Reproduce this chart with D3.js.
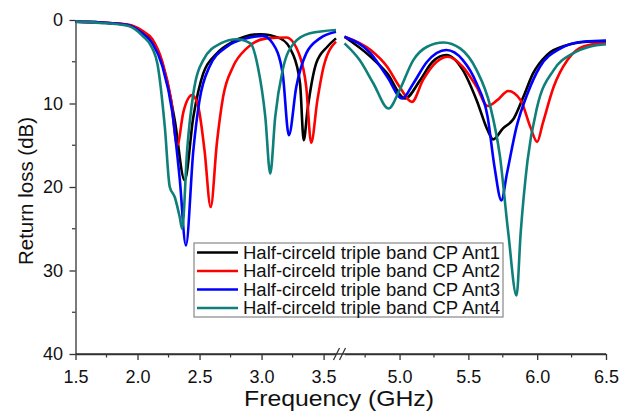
<!DOCTYPE html>
<html>
<head>
<meta charset="utf-8">
<script src="https://cdn.jsdelivr.net/npm/d3@7"></script>
<style>
  body { margin: 0; background: #fff; }
  svg { font-family: Arial, "Liberation Sans", sans-serif; }
</style>
</head>
<body>
<svg id="chart" width="620" height="411"></svg>
<script>
// frequency (GHz), return loss (dB)
const ant1Left = [[1.5,0.2],[1.7,0.3],[1.92,0.6],[2.04,1.4],[2.12,2.6],[2.16,3.6],[2.24,7.5],[2.3,12],[2.38,19.2],
  [2.45,11.6],[2.53,6.4],[2.64,4],[2.77,2.6],[2.99,1.7],[3.15,2.2],[3.25,4],[3.31,7.6],[3.34,14.4],[3.37,10.8],
  [3.44,5.2],[3.53,3.2],[3.6,2.2]];
const ant2Left = [[1.5,0.2],[1.7,0.3],[1.92,0.55],[2.04,1.3],[2.12,2.3],[2.2,5],[2.27,9.5],[2.32,15],[2.37,11],
  [2.44,9],[2.49,10.4],[2.54,15.6],[2.59,22.4],[2.64,14.7],[2.69,9.2],[2.77,5.6],[2.88,3.4],[3.04,2.2],[3.2,2.1],
  [3.31,4.4],[3.36,8],[3.4,14.7],[3.45,9.6],[3.5,5.6],[3.6,2.6]];
const ant3Left = [[1.5,0.2],[1.7,0.3],[1.92,0.6],[2.04,1.6],[2.12,2.8],[2.2,5.5],[2.28,11],[2.34,19],[2.39,27],
  [2.45,15.6],[2.5,9.6],[2.58,5.6],[2.72,3.2],[2.88,2.2],[3.01,1.9],[3.09,2.8],[3.17,6.4],[3.22,13.8],[3.28,8],
  [3.36,4],[3.47,2.2],[3.6,1.4]];
const ant4Left = [[1.5,0.2],[1.7,0.35],[1.92,0.7],[2.04,1.9],[2.12,3.4],[2.16,5.2],[2.22,12.8],[2.26,20],[2.3,21.2],
  [2.34,23.6],[2.36,25],[2.4,15.6],[2.45,8.8],[2.53,4.8],[2.67,2.8],[2.8,2.3],[2.91,2.8],[2.97,5.6],[3.03,11.6],
  [3.07,18.4],[3.11,11.6],[3.17,6],[3.26,2.8],[3.39,1.6],[3.6,1.2]];

const ant1Right = [[4.6,2],[4.79,4.4],[4.91,6.4],[5.04,9.4],[5.15,7.2],[5.24,5],[5.34,4.2],[5.46,6],[5.56,9.6],
  [5.64,13.2],[5.68,14.3],[5.75,13],[5.83,11.8],[5.9,9.2],[5.97,6.4],[6.07,4.2],[6.22,3],[6.36,2.6],[6.5,2.5]];
const ant2Right = [[4.6,2],[4.79,3.6],[4.91,5.6],[5.0,8],[5.09,9.8],[5.17,7.2],[5.27,5],[5.35,4.4],[5.46,5.6],
  [5.56,8],[5.64,10.3],[5.71,9.6],[5.79,8.5],[5.88,9.6],[5.95,12.8],[6.0,14.6],[6.04,12.4],[6.12,8],[6.22,4.8],
  [6.33,3.2],[6.5,2.7]];
const ant3Right = [[4.6,2],[4.79,4],[4.91,6.8],[5.02,9.4],[5.1,7.6],[5.2,5],[5.34,3.6],[5.46,4.8],[5.56,7.6],
  [5.64,11.6],[5.69,17.6],[5.74,21.6],[5.78,18.4],[5.85,12.8],[5.93,8.8],[6.02,5.6],[6.17,3.4],[6.33,2.6],[6.5,2.5]];
const ant4Right = [[4.6,2.8],[4.71,4.8],[4.81,7.6],[4.92,10.6],[5.0,8.4],[5.1,4.8],[5.2,3.2],[5.32,2.7],[5.44,3.4],
  [5.56,6],[5.66,10.4],[5.73,16.4],[5.79,25.5],[5.85,33],[5.88,25.5],[5.93,16.8],[6.0,10.4],[6.12,6],[6.26,4],
  [6.38,3.2],[6.5,2.9]];

const seriesNames = ["Half-circeld triple band CP Ant1", "Half-circeld triple band CP Ant2",
  "Half-circeld triple band CP Ant3", "Half-circeld triple band CP Ant4"];
const seriesColors = ["#000000", "#ff0000", "#0000ff", "#0f7f7a"];
const leftTicks = [1.5, 2.0, 2.5, 3.0, 3.5];
const rightTicks = [5.0, 5.5, 6.0, 6.5];
const yTicks = [0, 10, 20, 30, 40];

const svg = d3.select("#chart");
const plotTop = 20, plotBottom = 354;

const xLeft = d3.scaleLinear().domain([1.5, 3.6]).range([75.5, 336]);
const xRight = d3.scaleLinear().domain([4.6, 6.5]).range([344.5, 606]);
const y = d3.scaleLinear().domain([0, 40]).range([plotTop, plotBottom]);

// axes
const xAxisL = d3.axisBottom(xLeft).tickValues(leftTicks).tickFormat(d3.format(".1f")).tickSize(6).tickSizeOuter(0);
const xAxisR = d3.axisBottom(xRight).tickValues(rightTicks).tickFormat(d3.format(".1f")).tickSize(6).tickSizeOuter(0);
const yAxis = d3.axisLeft(y).tickValues(yTicks).tickSize(6).tickSizeOuter(0);

function styleAxis(g) {
  g.selectAll("path, line").attr("stroke", "#333").attr("stroke-width", 1.3);
  g.selectAll("text").attr("fill", "#111").style("font-size", "18px");
}

svg.append("g").attr("transform", `translate(0,${plotBottom})`).call(xAxisL).call(styleAxis)
  .selectAll("text").attr("y", 16);
svg.append("g").attr("transform", `translate(0,${plotBottom})`).call(xAxisR).call(styleAxis)
  .selectAll("text").attr("y", 16);
svg.append("g").attr("transform", "translate(75.5,0)").call(yAxis).call(styleAxis)
  .selectAll("text").attr("x", -12.5);

// continuous bottom line across the break
svg.append("line").attr("x1", 75.5).attr("x2", 606).attr("y1", plotBottom).attr("y2", plotBottom)
  .attr("stroke", "#333").attr("stroke-width", 1.3);

// minor ticks
const minorL = [1.75, 2.25, 2.75, 3.25];
const minorR = [4.75, 5.25, 5.75, 6.25];
const minorY = [5, 15, 25, 35];
svg.selectAll(".mxl").data(minorL).join("line")
  .attr("x1", d => xLeft(d)).attr("x2", d => xLeft(d)).attr("y1", plotBottom).attr("y2", plotBottom + 3.5)
  .attr("stroke", "#333").attr("stroke-width", 1.2);
svg.selectAll(".mxr").data(minorR).join("line")
  .attr("x1", d => xRight(d)).attr("x2", d => xRight(d)).attr("y1", plotBottom).attr("y2", plotBottom + 3.5)
  .attr("stroke", "#333").attr("stroke-width", 1.2);
svg.selectAll(".my").data(minorY).join("line")
  .attr("x1", 75.5).attr("x2", 72).attr("y1", d => y(d)).attr("y2", d => y(d))
  .attr("stroke", "#333").attr("stroke-width", 1.2);

// break marks
[336.5, 342.5].forEach(bx => {
  svg.append("line").attr("x1", bx - 3).attr("y1", plotBottom + 6).attr("x2", bx + 3).attr("y2", plotBottom - 6)
    .attr("stroke", "#333").attr("stroke-width", 1.3);
});

// curves
const lineL = d3.line().x(d => xLeft(d[0])).y(d => y(d[1])).curve(d3.curveMonotoneX);
const lineR = d3.line().x(d => xRight(d[0])).y(d => y(d[1])).curve(d3.curveMonotoneX);
const leftData = [ant1Left, ant2Left, ant3Left, ant4Left];
const rightData = [ant1Right, ant2Right, ant3Right, ant4Right];

leftData.forEach((data, i) => {
  svg.append("path").datum(data).attr("fill", "none").attr("stroke", seriesColors[i])
    .attr("stroke-width", 2.6).attr("stroke-linejoin", "round").attr("d", lineL);
});
rightData.forEach((data, i) => {
  svg.append("path").datum(data).attr("fill", "none").attr("stroke", seriesColors[i])
    .attr("stroke-width", 2.6).attr("stroke-linejoin", "round").attr("d", lineR);
});

// axis titles
svg.append("text").attr("x", 339).attr("y", 405.5).attr("text-anchor", "middle")
  .attr("textLength", 190).attr("lengthAdjust", "spacingAndGlyphs")
  .style("font-size", "21.5px").attr("fill", "#111").text("Frequency (GHz)");
svg.append("text").attr("transform", "translate(33,191) rotate(-90)").attr("text-anchor", "middle")
  .style("font-size", "20.5px").attr("fill", "#111").text("Return loss (dB)");

// legend
const legend = svg.append("g").attr("transform", "translate(194,243)");
legend.append("rect").attr("width", 309).attr("height", 74)
  .attr("fill", "#fff").attr("stroke", "#888").attr("stroke-width", 1.2);
seriesNames.forEach((name, i) => {
  const ly = 9.5 + i * 18.5;
  legend.append("line").attr("x1", 3).attr("x2", 44).attr("y1", ly).attr("y2", ly)
    .attr("stroke", seriesColors[i]).attr("stroke-width", 2.6);
  legend.append("text").attr("x", 49).attr("y", ly).attr("dy", "0.36em")
    .attr("textLength", 257).attr("lengthAdjust", "spacingAndGlyphs")
    .style("font-size", "18px").attr("fill", "#111").text(name);
});
</script>
</body>
</html>
